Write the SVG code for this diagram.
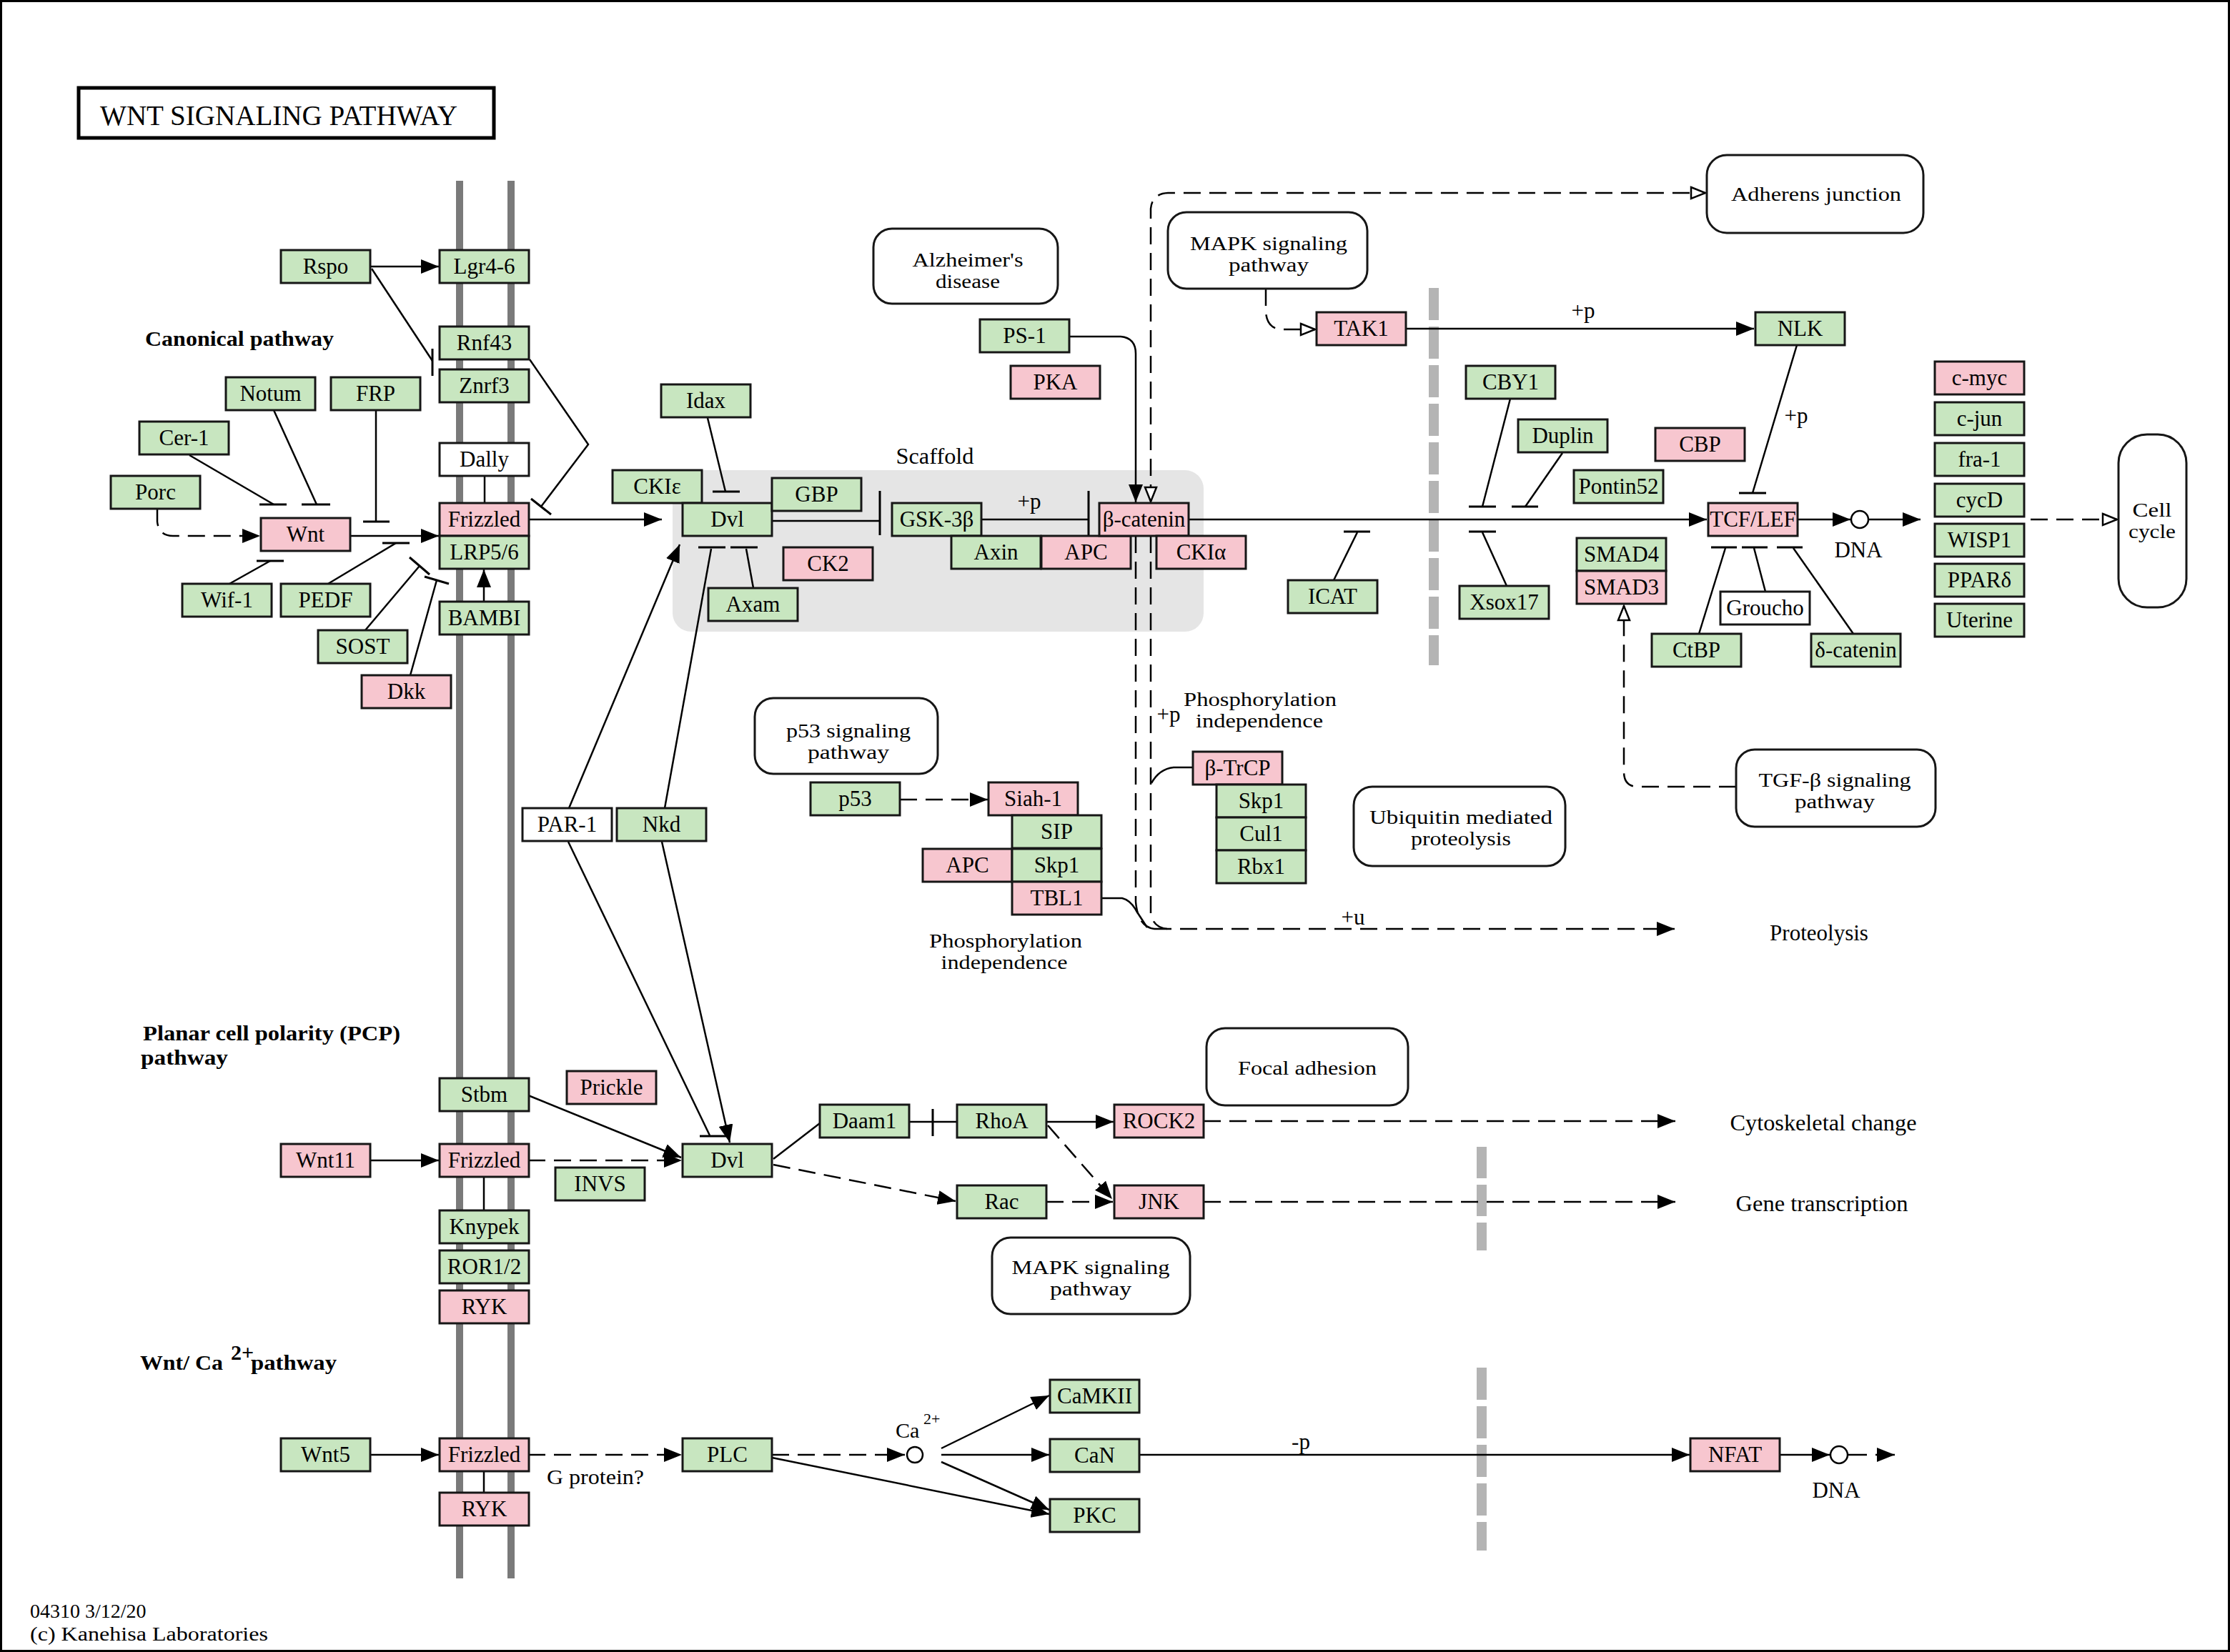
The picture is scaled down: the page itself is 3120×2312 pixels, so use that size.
<svg xmlns="http://www.w3.org/2000/svg" width="3120" height="2312" viewBox="0 0 3120 2312">
<style>
text{font-family:"Liberation Serif","Times New Roman",serif;fill:#000}
.node text{font-size:31px;text-anchor:middle}
.node rect{stroke:#161616;stroke-width:3}
.g{fill:#c8e6c0}.p{fill:#f7c6cf}.w{fill:#fff}
.pw rect{fill:#fff;stroke:#161616;stroke-width:3}
.pw text{font-size:27px;text-anchor:middle}
.l{fill:none;stroke:#000;stroke-width:2.5}
.d{stroke-dasharray:24 12}
.b{stroke:#000;stroke-width:3}
.lab{font-size:31px;text-anchor:middle}
.two{font-size:27px;text-anchor:middle}
.bold{font-size:30px;font-weight:bold}
</style>
<defs>
<marker id="ah" viewBox="0 0 25 20" refX="25" refY="10" markerWidth="25" markerHeight="20" markerUnits="userSpaceOnUse" orient="auto"><path d="M0,0L25,10L0,20z" fill="#000"/></marker>
<marker id="oh" viewBox="0 0 24 20" refX="22" refY="10" markerWidth="24" markerHeight="20" markerUnits="userSpaceOnUse" orient="auto-start-reverse"><path d="M2,2L22,10L2,18z" fill="#fff" stroke="#000" stroke-width="2.5"/></marker>
</defs>
<rect x="1.5" y="1.5" width="3117" height="2309" fill="#fff" stroke="#000" stroke-width="3"/>
<g id="title"><rect x="110" y="123" width="581" height="70" fill="#fff" stroke="#000" stroke-width="5"/><text x="140" y="175" font-size="40" textLength="500" lengthAdjust="spacingAndGlyphs">WNT  SIGNALING  PATHWAY</text></g>
<g id="membrane"><line x1="643" y1="253" x2="643" y2="2209" stroke="#7a7a7a" stroke-width="10"/><line x1="715" y1="253" x2="715" y2="2209" stroke="#7a7a7a" stroke-width="10"/></g>
<g id="nuclear-membrane" stroke="#b4b4b4" stroke-width="14"><line x1="2006" y1="403" x2="2006" y2="931" stroke-dasharray="45 9"/><line x1="2073" y1="1605" x2="2073" y2="1750" stroke-dasharray="44 9"/><line x1="2073" y1="1914" x2="2073" y2="2170" stroke-dasharray="45 9"/></g>
<g id="scaffold"><rect x="941" y="658" width="743" height="226" rx="26" fill="#e5e5e5"/><text class="lab" x="1308" y="649" textLength="109" lengthAdjust="spacingAndGlyphs">Scaffold</text></g>
<g id="connectors">
<path class="l" d="M518,373L614,373" marker-end="url(#ah)"/>
<path class="l" d="M520,376L605,505"/><line class="b" x1="605" y1="488" x2="605" y2="526"/>
<path class="l" d="M741,503L823,622L757,709"/><line class="b" x1="743" y1="698" x2="771" y2="720"/>
<path class="l" d="M678,667L678,704"/>
<path class="l" d="M265,637L383,706"/><line class="b" x1="363" y1="706" x2="401" y2="706"/>
<path class="l" d="M383,574L443,706"/><line class="b" x1="422" y1="706" x2="462" y2="706"/>
<path class="l" d="M526,574L526,730"/><line class="b" x1="508" y1="730" x2="545" y2="730"/>
<path class="l d" d="M220,712L220,730Q222,750 242,750L364,750" marker-end="url(#ah)"/>
<path class="l" d="M491,750L614,750" marker-end="url(#ah)"/>
<path class="l" d="M321,817L378,785"/><line class="b" x1="359" y1="785" x2="397" y2="785"/>
<path class="l" d="M459,817L554,760"/><line class="b" x1="535" y1="760" x2="573" y2="760"/>
<path class="l" d="M511,882L587,792"/><line class="b" x1="573" y1="780" x2="601" y2="804"/>
<path class="l" d="M574,945L611,812"/><line class="b" x1="594" y1="807" x2="628" y2="817"/>
<path class="l" d="M677,842L677,797" marker-end="url(#ah)"/>
<path class="l" d="M739,727L926,727" marker-end="url(#ah)"/>
<path class="l" d="M990,585L1015,688"/><line class="b" x1="997" y1="688" x2="1035" y2="688"/>
<path class="l" d="M1080,729L1231,729"/><line class="b" x1="1231" y1="687" x2="1231" y2="749"/>
<path class="l" d="M1372,727L1523,727"/><line class="b" x1="1523" y1="687" x2="1523" y2="749"/>
<text class="lab" x="1440" y="712">+p</text>
<path class="l" d="M1496,471L1568,471Q1589,473 1589,495L1589,703" marker-end="url(#ah)"/>
<path class="l d" d="M1610,702L1610,292Q1612,271 1634,270L2386,270" marker-start="url(#oh)" marker-end="url(#oh)"/>
<path class="l" d="M796,1131L951,762" marker-end="url(#ah)"/>
<path class="l" d="M930,1131L995,768"/><line class="b" x1="977" y1="766" x2="1015" y2="766"/>
<path class="l" d="M1054,823L1044,768"/><line class="b" x1="1022" y1="766" x2="1060" y2="766"/>
<path class="l" d="M1662,727L2388,727" marker-end="url(#ah)"/>
<path class="l" d="M1866,812L1899,745"/><line class="b" x1="1880" y1="744" x2="1917" y2="744"/>
<path class="l" d="M2108,820L2074,745"/><line class="b" x1="2055" y1="744" x2="2093" y2="744"/>
<path class="l" d="M2113,558L2074,709"/><line class="b" x1="2055" y1="709" x2="2093" y2="709"/>
<path class="l" d="M2186,634L2134,709"/><line class="b" x1="2115" y1="709" x2="2152" y2="709"/>
<path class="l d" d="M1771,404L1771,437Q1773,461 1795,461L1840,461" marker-end="url(#oh)"/>
<path class="l" d="M1967,460L2454,460" marker-end="url(#ah)"/>
<text class="lab" x="2215" y="445">+p</text>
<path class="l" d="M2514,483L2452,690"/><line class="b" x1="2433" y1="690" x2="2471" y2="690"/>
<text class="lab" x="2513" y="592">+p</text>
<path class="l" d="M2516,727L2589,727" marker-end="url(#ah)"/>
<circle cx="2602" cy="727" r="12" fill="#fff" stroke="#000" stroke-width="2.5"/>
<path class="l" d="M2614,727L2687,727" marker-end="url(#ah)"/>
<path class="l d" d="M2841,727L2962,727" marker-end="url(#oh)"/>
<line class="b" x1="2394" y1="766" x2="2430" y2="766"/><line class="b" x1="2437" y1="766" x2="2473" y2="766"/><line class="b" x1="2486" y1="766" x2="2522" y2="766"/>
<path class="l" d="M2377,887L2414,767"/><path class="l" d="M2470,828L2454,767"/><path class="l" d="M2593,887L2509,767"/>
<path class="l d" d="M2429,1101L2290,1101Q2272,1100 2272,1080L2272,848" marker-end="url(#oh)"/>
<path class="l d" d="M1259,1119L1382,1119" marker-end="url(#ah)"/>
<path class="l" d="M1540,1257L1570,1257Q1582,1260 1590,1275L1605,1298"/>
<path class="l d" d="M1589,750L1589,1262Q1592,1297 1615,1300"/>
<path class="l d" d="M1610,750L1610,1278Q1613,1298 1633,1300"/>
<path class="l d" d="M1615,1300L2343,1300" marker-end="url(#ah)"/>
<path class="l" d="M1669,1074L1642,1074Q1622,1076 1611,1096"/>
<text class="lab" x="1635" y="1010">+p</text>
<text class="lab" x="1893" y="1294">+u</text>
<path class="l" d="M518,1624L614,1624" marker-end="url(#ah)"/>
<path class="l d" d="M739,1624L954,1624" marker-end="url(#ah)"/>
<path class="l" d="M677,1647L677,1694"/>
<path class="l" d="M739,1533L953,1620" marker-end="url(#ah)"/>
<path class="l" d="M795,1178L993,1589"/><line class="b" x1="979" y1="1590" x2="1016" y2="1590"/>
<path class="l" d="M926,1178L1021,1599" marker-end="url(#ah)"/>
<path class="l" d="M1082,1622L1147,1572"/>
<path class="l" d="M1271,1570L1339,1570"/><line class="b" x1="1305" y1="1552" x2="1305" y2="1590"/>
<path class="l" d="M1464,1570L1558,1570" marker-end="url(#ah)"/>
<path class="l d" d="M1466,1575L1556,1678" marker-end="url(#ah)"/>
<path class="l d" d="M1082,1630L1337,1681" marker-end="url(#ah)"/>
<path class="l d" d="M1464,1682L1557,1682" marker-end="url(#ah)"/>
<path class="l d" d="M1684,1569L2344,1569" marker-end="url(#ah)"/>
<path class="l d" d="M1684,1682L2344,1682" marker-end="url(#ah)"/>
<path class="l" d="M518,2036L614,2036" marker-end="url(#ah)"/>
<path class="l d" d="M739,2036L954,2036" marker-end="url(#ah)"/>
<path class="l" d="M677,2059L677,2089"/>
<path class="l d" d="M1080,2036L1266,2036" marker-end="url(#ah)"/>
<circle cx="1280" cy="2036" r="11" fill="#fff" stroke="#000" stroke-width="2.5"/>
<path class="l" d="M1080,2040L1468,2119" marker-end="url(#ah)"/>
<path class="l" d="M1317,2027L1468,1953" marker-end="url(#ah)"/>
<path class="l" d="M1317,2036L1468,2036" marker-end="url(#ah)"/>
<path class="l" d="M1317,2046L1468,2113" marker-end="url(#ah)"/>
<path class="l" d="M1594,2036L2364,2036" marker-end="url(#ah)"/>
<text class="lab" x="1820" y="2028">-p</text>
<path class="l" d="M2489,2036L2560,2036" marker-end="url(#ah)"/>
<circle cx="2573" cy="2036" r="12" fill="#fff" stroke="#000" stroke-width="2.5"/>
<path class="l" d="M2585,2036L2612,2036"/>
<path class="l" d="M2624,2036L2651,2036" marker-end="url(#ah)"/>
</g>
<g id="pathway-boxes" class="pw">
<g id="pw_alz"><rect x="1222" y="320" width="258" height="105" rx="26"/><text x="1354" y="373" textLength="155" lengthAdjust="spacingAndGlyphs">Alzheimer's</text><text x="1354" y="403" textLength="90" lengthAdjust="spacingAndGlyphs">disease</text></g>
<g id="pw_mapk1"><rect x="1634" y="297" width="279" height="107" rx="26"/><text x="1775" y="350" textLength="220" lengthAdjust="spacingAndGlyphs">MAPK signaling</text><text x="1775" y="380" textLength="112" lengthAdjust="spacingAndGlyphs">pathway</text></g>
<g id="pw_adh"><rect x="2388" y="217" width="303" height="109" rx="28"/><text x="2541" y="281" textLength="238" lengthAdjust="spacingAndGlyphs">Adherens junction</text></g>
<g id="pw_p53"><rect x="1056" y="977" width="256" height="106" rx="26"/><text x="1187" y="1032" textLength="174" lengthAdjust="spacingAndGlyphs">p53 signaling</text><text x="1187" y="1062" textLength="114" lengthAdjust="spacingAndGlyphs">pathway</text></g>
<g id="pw_ubq"><rect x="1894" y="1101" width="296" height="111" rx="26"/><text x="2044" y="1153" textLength="256" lengthAdjust="spacingAndGlyphs">Ubiquitin mediated</text><text x="2044" y="1183" textLength="140" lengthAdjust="spacingAndGlyphs">proteolysis</text></g>
<g id="pw_tgf"><rect x="2429" y="1049" width="279" height="108" rx="26"/><text x="2567" y="1101" textLength="213" lengthAdjust="spacingAndGlyphs">TGF-β signaling</text><text x="2567" y="1131" textLength="112" lengthAdjust="spacingAndGlyphs">pathway</text></g>
<g id="pw_focal"><rect x="1688" y="1439" width="282" height="108" rx="26"/><text x="1829" y="1504" textLength="194" lengthAdjust="spacingAndGlyphs">Focal adhesion</text></g>
<g id="pw_mapk2"><rect x="1388" y="1732" width="277" height="107" rx="26"/><text x="1526" y="1783" textLength="221" lengthAdjust="spacingAndGlyphs">MAPK signaling</text><text x="1526" y="1813" textLength="114" lengthAdjust="spacingAndGlyphs">pathway</text></g>
<g id="pw_cell"><rect x="2964" y="608" width="95" height="242" rx="40"/><text x="3011" y="723" textLength="55" lengthAdjust="spacingAndGlyphs">Cell</text><text x="3011" y="753" textLength="66" lengthAdjust="spacingAndGlyphs">cycle</text></g>
</g>
<g id="nodes">
<g id="n_Rspo" class="node"><rect class="g" x="393" y="350" width="125" height="46"/><text x="455.5" y="383">Rspo</text></g>
<g id="n_Lgr" class="node"><rect class="g" x="615" y="350" width="125" height="46"/><text x="677.5" y="383">Lgr4-6</text></g>
<g id="n_Rnf43" class="node"><rect class="g" x="615" y="457" width="125" height="46"/><text x="677.5" y="490">Rnf43</text></g>
<g id="n_Znrf3" class="node"><rect class="g" x="615" y="517" width="125" height="46"/><text x="677.5" y="550">Znrf3</text></g>
<g id="n_Dally" class="node"><rect class="w" x="615" y="620" width="125" height="46"/><text x="677.5" y="653">Dally</text></g>
<g id="n_Frizzled1" class="node"><rect class="p" x="615" y="704" width="125" height="46"/><text x="677.5" y="737">Frizzled</text></g>
<g id="n_LRP" class="node"><rect class="g" x="615" y="750" width="125" height="46"/><text x="677.5" y="783">LRP5/6</text></g>
<g id="n_BAMBI" class="node"><rect class="g" x="615" y="842" width="125" height="46"/><text x="677.5" y="875">BAMBI</text></g>
<g id="n_Notum" class="node"><rect class="g" x="316" y="528" width="125" height="46"/><text x="378.5" y="561">Notum</text></g>
<g id="n_FRP" class="node"><rect class="g" x="463" y="528" width="125" height="46"/><text x="525.5" y="561">FRP</text></g>
<g id="n_Cer1" class="node"><rect class="g" x="195" y="590" width="125" height="46"/><text x="257.5" y="623">Cer-1</text></g>
<g id="n_Porc" class="node"><rect class="g" x="155" y="666" width="125" height="46"/><text x="217.5" y="699">Porc</text></g>
<g id="n_Wnt" class="node"><rect class="p" x="365" y="725" width="125" height="46"/><text x="427.5" y="758">Wnt</text></g>
<g id="n_Wif1" class="node"><rect class="g" x="255" y="817" width="125" height="46"/><text x="317.5" y="850">Wif-1</text></g>
<g id="n_PEDF" class="node"><rect class="g" x="393" y="817" width="125" height="46"/><text x="455.5" y="850">PEDF</text></g>
<g id="n_SOST" class="node"><rect class="g" x="445" y="882" width="125" height="46"/><text x="507.5" y="915">SOST</text></g>
<g id="n_Dkk" class="node"><rect class="p" x="506" y="945" width="125" height="46"/><text x="568.5" y="978">Dkk</text></g>
<g id="n_Idax" class="node"><rect class="g" x="925" y="538" width="125" height="46"/><text x="987.5" y="571">Idax</text></g>
<g id="n_CKIe" class="node"><rect class="g" x="857" y="658" width="125" height="46"/><text x="919.5" y="691">CKIε</text></g>
<g id="n_Dvl1" class="node"><rect class="g" x="955" y="704" width="125" height="46"/><text x="1017.5" y="737">Dvl</text></g>
<g id="n_GBP" class="node"><rect class="g" x="1080" y="669" width="125" height="46"/><text x="1142.5" y="702">GBP</text></g>
<g id="n_CK2" class="node"><rect class="p" x="1096" y="766" width="125" height="46"/><text x="1158.5" y="799">CK2</text></g>
<g id="n_Axam" class="node"><rect class="g" x="991" y="823" width="125" height="46"/><text x="1053.5" y="856">Axam</text></g>
<g id="n_GSK3b" class="node"><rect class="g" x="1248" y="704" width="125" height="46"/><text x="1310.5" y="737">GSK-3β</text></g>
<g id="n_Axin" class="node"><rect class="g" x="1331" y="750" width="125" height="46"/><text x="1393.5" y="783">Axin</text></g>
<g id="n_APC1" class="node"><rect class="p" x="1457" y="750" width="125" height="46"/><text x="1519.5" y="783">APC</text></g>
<g id="n_bcat" class="node"><rect class="p" x="1538" y="704" width="125" height="46"/><text x="1600.5" y="737">β-catenin</text></g>
<g id="n_CKIa" class="node"><rect class="p" x="1618" y="750" width="125" height="46"/><text x="1680.5" y="783">CKIα</text></g>
<g id="n_PS1" class="node"><rect class="g" x="1371" y="447" width="125" height="46"/><text x="1433.5" y="480">PS-1</text></g>
<g id="n_PKA" class="node"><rect class="p" x="1414" y="512" width="125" height="46"/><text x="1476.5" y="545">PKA</text></g>
<g id="n_TAK1" class="node"><rect class="p" x="1842" y="437" width="125" height="46"/><text x="1904.5" y="470">TAK1</text></g>
<g id="n_NLK" class="node"><rect class="g" x="2456" y="437" width="125" height="46"/><text x="2518.5" y="470">NLK</text></g>
<g id="n_CBY1" class="node"><rect class="g" x="2051" y="512" width="125" height="46"/><text x="2113.5" y="545">CBY1</text></g>
<g id="n_Duplin" class="node"><rect class="g" x="2124" y="587" width="125" height="46"/><text x="2186.5" y="620">Duplin</text></g>
<g id="n_CBP" class="node"><rect class="p" x="2316" y="599" width="125" height="46"/><text x="2378.5" y="632">CBP</text></g>
<g id="n_Pontin52" class="node"><rect class="g" x="2202" y="658" width="125" height="46"/><text x="2264.5" y="691">Pontin52</text></g>
<g id="n_ICAT" class="node"><rect class="g" x="1802" y="812" width="125" height="46"/><text x="1864.5" y="845">ICAT</text></g>
<g id="n_Xsox17" class="node"><rect class="g" x="2042" y="820" width="125" height="46"/><text x="2104.5" y="853">Xsox17</text></g>
<g id="n_SMAD4" class="node"><rect class="g" x="2206" y="753" width="125" height="46"/><text x="2268.5" y="786">SMAD4</text></g>
<g id="n_SMAD3" class="node"><rect class="p" x="2206" y="799" width="125" height="46"/><text x="2268.5" y="832">SMAD3</text></g>
<g id="n_TCF" class="node"><rect class="p" x="2390" y="704" width="125" height="46"/><text x="2452.5" y="737">TCF/LEF</text></g>
<g id="n_Groucho" class="node"><rect class="w" x="2407" y="828" width="125" height="46"/><text x="2469.5" y="861">Groucho</text></g>
<g id="n_CtBP" class="node"><rect class="g" x="2311" y="887" width="125" height="46"/><text x="2373.5" y="920">CtBP</text></g>
<g id="n_dcat" class="node"><rect class="g" x="2534" y="887" width="125" height="46"/><text x="2596.5" y="920">δ-catenin</text></g>
<g id="n_cmyc" class="node"><rect class="p" x="2707" y="506" width="125" height="46"/><text x="2769.5" y="539">c-myc</text></g>
<g id="n_cjun" class="node"><rect class="g" x="2707" y="563" width="125" height="46"/><text x="2769.5" y="596">c-jun</text></g>
<g id="n_fra1" class="node"><rect class="g" x="2707" y="620" width="125" height="46"/><text x="2769.5" y="653">fra-1</text></g>
<g id="n_cycD" class="node"><rect class="g" x="2707" y="677" width="125" height="46"/><text x="2769.5" y="710">cycD</text></g>
<g id="n_WISP1" class="node"><rect class="g" x="2707" y="733" width="125" height="46"/><text x="2769.5" y="766">WISP1</text></g>
<g id="n_PPARd" class="node"><rect class="g" x="2707" y="789" width="125" height="46"/><text x="2769.5" y="822">PPARδ</text></g>
<g id="n_Uterine" class="node"><rect class="g" x="2707" y="845" width="125" height="46"/><text x="2769.5" y="878">Uterine</text></g>
<g id="n_p53" class="node"><rect class="g" x="1134" y="1095" width="125" height="46"/><text x="1196.5" y="1128">p53</text></g>
<g id="n_Siah1" class="node"><rect class="p" x="1383" y="1095" width="125" height="46"/><text x="1445.5" y="1128">Siah-1</text></g>
<g id="n_SIP" class="node"><rect class="g" x="1416" y="1141" width="125" height="46"/><text x="1478.5" y="1174">SIP</text></g>
<g id="n_APC2" class="node"><rect class="p" x="1291" y="1188" width="125" height="46"/><text x="1353.5" y="1221">APC</text></g>
<g id="n_Skp1a" class="node"><rect class="g" x="1416" y="1188" width="125" height="46"/><text x="1478.5" y="1221">Skp1</text></g>
<g id="n_TBL1" class="node"><rect class="p" x="1416" y="1234" width="125" height="46"/><text x="1478.5" y="1267">TBL1</text></g>
<g id="n_bTrCP" class="node"><rect class="p" x="1669" y="1052" width="125" height="46"/><text x="1731.5" y="1085">β-TrCP</text></g>
<g id="n_Skp1b" class="node"><rect class="g" x="1702" y="1098" width="125" height="46"/><text x="1764.5" y="1131">Skp1</text></g>
<g id="n_Cul1" class="node"><rect class="g" x="1702" y="1144" width="125" height="46"/><text x="1764.5" y="1177">Cul1</text></g>
<g id="n_Rbx1" class="node"><rect class="g" x="1702" y="1190" width="125" height="46"/><text x="1764.5" y="1223">Rbx1</text></g>
<g id="n_PAR1" class="node"><rect class="w" x="731" y="1131" width="125" height="46"/><text x="793.5" y="1164">PAR-1</text></g>
<g id="n_Nkd" class="node"><rect class="g" x="863" y="1131" width="125" height="46"/><text x="925.5" y="1164">Nkd</text></g>
<g id="n_Stbm" class="node"><rect class="g" x="615" y="1509" width="125" height="46"/><text x="677.5" y="1542">Stbm</text></g>
<g id="n_Prickle" class="node"><rect class="p" x="793" y="1499" width="125" height="46"/><text x="855.5" y="1532">Prickle</text></g>
<g id="n_Wnt11" class="node"><rect class="p" x="393" y="1601" width="125" height="46"/><text x="455.5" y="1634">Wnt11</text></g>
<g id="n_Frizzled2" class="node"><rect class="p" x="615" y="1601" width="125" height="46"/><text x="677.5" y="1634">Frizzled</text></g>
<g id="n_INVS" class="node"><rect class="g" x="777" y="1634" width="125" height="46"/><text x="839.5" y="1667">INVS</text></g>
<g id="n_Dvl2" class="node"><rect class="g" x="955" y="1601" width="125" height="46"/><text x="1017.5" y="1634">Dvl</text></g>
<g id="n_Knypek" class="node"><rect class="g" x="615" y="1694" width="125" height="46"/><text x="677.5" y="1727">Knypek</text></g>
<g id="n_ROR" class="node"><rect class="g" x="615" y="1750" width="125" height="46"/><text x="677.5" y="1783">ROR1/2</text></g>
<g id="n_RYK1" class="node"><rect class="p" x="615" y="1806" width="125" height="46"/><text x="677.5" y="1839">RYK</text></g>
<g id="n_Daam1" class="node"><rect class="g" x="1147" y="1546" width="125" height="46"/><text x="1209.5" y="1579">Daam1</text></g>
<g id="n_RhoA" class="node"><rect class="g" x="1339" y="1546" width="125" height="46"/><text x="1401.5" y="1579">RhoA</text></g>
<g id="n_ROCK2" class="node"><rect class="p" x="1559" y="1546" width="125" height="46"/><text x="1621.5" y="1579">ROCK2</text></g>
<g id="n_Rac" class="node"><rect class="g" x="1339" y="1659" width="125" height="46"/><text x="1401.5" y="1692">Rac</text></g>
<g id="n_JNK" class="node"><rect class="p" x="1559" y="1659" width="125" height="46"/><text x="1621.5" y="1692">JNK</text></g>
<g id="n_Wnt5" class="node"><rect class="g" x="393" y="2013" width="125" height="46"/><text x="455.5" y="2046">Wnt5</text></g>
<g id="n_Frizzled3" class="node"><rect class="p" x="615" y="2013" width="125" height="46"/><text x="677.5" y="2046">Frizzled</text></g>
<g id="n_RYK2" class="node"><rect class="p" x="615" y="2089" width="125" height="46"/><text x="677.5" y="2122">RYK</text></g>
<g id="n_PLC" class="node"><rect class="g" x="955" y="2013" width="125" height="46"/><text x="1017.5" y="2046">PLC</text></g>
<g id="n_CaMKII" class="node"><rect class="g" x="1469" y="1931" width="125" height="46"/><text x="1531.5" y="1964">CaMKII</text></g>
<g id="n_CaN" class="node"><rect class="g" x="1469" y="2014" width="125" height="46"/><text x="1531.5" y="2047">CaN</text></g>
<g id="n_PKC" class="node"><rect class="g" x="1469" y="2098" width="125" height="46"/><text x="1531.5" y="2131">PKC</text></g>
<g id="n_NFAT" class="node"><rect class="p" x="2365" y="2013" width="125" height="46"/><text x="2427.5" y="2046">NFAT</text></g>
</g>
<g id="labels">
<text class="bold" x="203" y="484" textLength="264" lengthAdjust="spacingAndGlyphs">Canonical pathway</text>
<text class="bold" x="200" y="1456" textLength="360" lengthAdjust="spacingAndGlyphs">Planar cell polarity (PCP)</text>
<text class="bold" x="197" y="1490" textLength="122" lengthAdjust="spacingAndGlyphs">pathway</text>
<text class="bold" x="196" y="1917" textLength="116" lengthAdjust="spacingAndGlyphs">Wnt/ Ca</text>
<text class="bold" x="323" y="1903" font-size="22">2+</text>
<text class="bold" x="351" y="1917" textLength="120" lengthAdjust="spacingAndGlyphs">pathway</text>
<text class="two" x="1763" y="988" textLength="214" lengthAdjust="spacingAndGlyphs">Phosphorylation</text>
<text class="two" x="1762" y="1018" textLength="178" lengthAdjust="spacingAndGlyphs">independence</text>
<text class="two" x="1407" y="1326" textLength="214" lengthAdjust="spacingAndGlyphs">Phosphorylation</text>
<text class="two" x="1405" y="1356" textLength="177" lengthAdjust="spacingAndGlyphs">independence</text>
<text class="lab" x="2545" y="1316">Proteolysis</text>
<text class="lab" x="2551" y="1582" textLength="261" lengthAdjust="spacingAndGlyphs">Cytoskeletal change</text>
<text class="lab" x="2549" y="1695" textLength="241" lengthAdjust="spacingAndGlyphs">Gene transcription</text>
<text class="lab" x="2600" y="780">DNA</text>
<text class="lab" x="2569" y="2096">DNA</text>
<text x="765" y="2077" font-size="30" textLength="136" lengthAdjust="spacingAndGlyphs">G protein?</text>
<text x="1253" y="2012" font-size="30">Ca</text>
<text x="1292" y="1993" font-size="22">2+</text>
<text x="42" y="2264" font-size="28">04310 3/12/20</text>
<text x="42" y="2296" font-size="28" textLength="333" lengthAdjust="spacingAndGlyphs">(c) Kanehisa Laboratories</text>
</g>
</svg>
